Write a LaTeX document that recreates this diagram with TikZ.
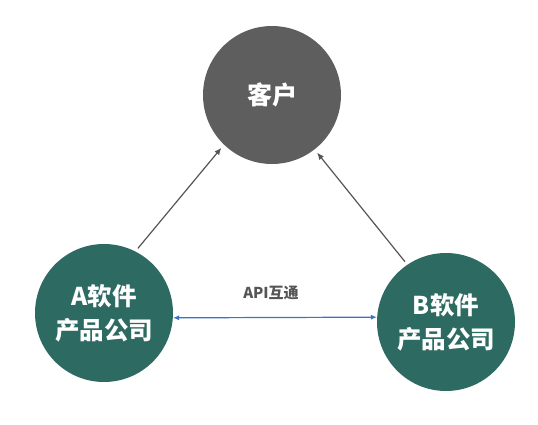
\documentclass[tikz,border=0pt]{standalone}
\usepackage{fontspec}
\newfontfamily\cjk{Noto Sans CJK SC}
\usetikzlibrary{arrows.meta}
\definecolor{clientgray}{HTML}{5E5E5E}
\definecolor{firmteal}{HTML}{2D6A62}
\definecolor{apiblue}{HTML}{3A74C4}
\definecolor{arrowgray}{HTML}{555555}
\tikzset{
  party/.style={circle, minimum size=138pt, inner sep=0pt, text=white,
    align=center, font=\cjk\bfseries\fontsize{24.5}{34}\selectfont},
  feed/.style={draw=arrowgray, line width=1.2pt,
    -{Latex[length=7pt,width=6pt]}, shorten <=4pt, shorten >=4pt},
  link/.style={draw=apiblue, line width=1.2pt,
    {Latex[length=6pt,width=5pt]}-{Latex[length=6pt,width=5pt]}}
}
\begin{document}
\begin{tikzpicture}[x=1pt,y=-1pt,line cap=round,line join=round]
  \useasboundingbox (0,0) rectangle (538,425);
  % the three parties
  \node[party, fill=clientgray, font=\cjk\bfseries\fontsize{25}{28}\selectfont] (client) at (272,95) {客户};
  \node[party, fill=firmteal] (firmA) at (104,313) {A软件\\产品公司};
  \node[party, fill=firmteal] (firmB) at (446,322) {B软件\\产品公司};
  % arrows to the client
  \draw[feed] (firmA.63) -- (client.226);
  \draw[feed] (firmB.124) -- (client.308);
  % link between the two firms
  \draw[link] (firmA.-4) -- (firmB.176);
  \node[text=arrowgray, font=\cjk\bfseries\fontsize{15}{17}\selectfont] (api) at (271,293) {API互通};
\end{tikzpicture}
\end{document}
